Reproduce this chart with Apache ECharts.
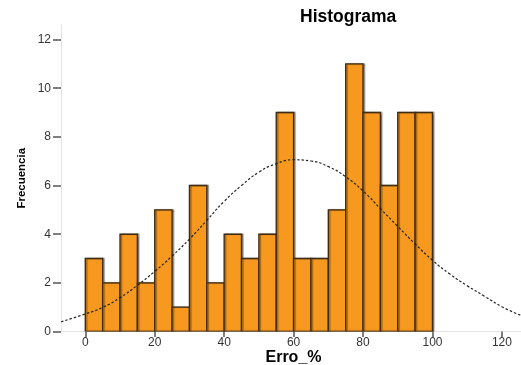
<!DOCTYPE html>
<html>
<head>
<meta charset="utf-8">
<script src="https://cdn.jsdelivr.net/npm/echarts@6/dist/echarts.min.js"></script>
<style>
html,body{margin:0;padding:0;background:#fff;}
#c{width:521px;height:365px;}
</style>
</head>
<body>
<div id="c"></div>
<script>
// Histogram bins (lower edge), bin width, frequencies
var binStarts = [0,5,10,15,20,25,30,35,40,45,50,55,60,65,70,75,80,85,90,95];
var binWidth = 5;
var counts = [3,2,4,2,5,1,6,2,4,3,4,9,3,3,5,11,9,6,9,9];
// Normal curve
var curveX = [-7,0,5,10,15,20,25,30,35,40,45,50,55,60,65,70,75,80,85,90,95,100,105,110,115,120,125.5];
var curveY = [0.40,0.72,0.99,1.39,1.90,2.47,3.10,3.80,4.57,5.35,6.00,6.55,6.90,7.06,7.01,6.78,6.36,5.78,5.05,4.32,3.60,2.93,2.36,1.88,1.45,1.02,0.66];
// Tick labels
var xTicks = [0,20,40,60,80,100,120];
var yTicks = [0,2,4,6,8,10,12];

var barData = binStarts.map(function(s,i){return [s, s+binWidth, counts[i]];});
var lineData = curveX.map(function(x,i){return [x, curveY[i]];});

var chart = echarts.init(document.getElementById('c'), null, {renderer:'canvas'});
var font = 'Liberation Sans, Arial, sans-serif';
chart.setOption({
  animation:false,
  backgroundColor:'#fff',
  title:{text:'Histograma', left:295, top:3,
    textStyle:{fontFamily:font, fontWeight:'bold', fontSize:17.5, color:'#000'}},
  grid:{left:61, right:0, top:25, bottom:33.5, containLabel:false, outerBoundsMode:'none'},
  xAxis:{type:'value', min:-7, max:125.5,
    name:'Erro_%', nameLocation:'middle', nameGap:18, nameMoveOverlap:false,
    nameTextStyle:{fontFamily:font, fontWeight:'bold', fontSize:16, color:'#000', padding:[0,0,0,5]},
    axisLine:{show:true, onZero:false, lineStyle:{color:'#e4e4e4', width:1}},
    axisTick:{show:true, customValues:xTicks, length:5.5, lineStyle:{color:'#555', width:1.5}},
    axisLabel:{customValues:xTicks, fontFamily:font, fontSize:12, color:'#333', margin:5},
    splitLine:{show:false}},
  yAxis:{type:'value', min:0, max:12.6,
    name:'Frecuencia', nameLocation:'middle', nameGap:33, nameRotate:90, nameMoveOverlap:false,
    nameTextStyle:{fontFamily:font, fontWeight:'bold', fontSize:11.5, color:'#000'},
    axisLine:{show:true, onZero:false, lineStyle:{color:'#e4e4e4', width:1}},
    axisTick:{show:true, customValues:yTicks, length:8, lineStyle:{color:'#555', width:1.5}},
    axisLabel:{customValues:yTicks, fontFamily:font, fontSize:12, color:'#333', margin:10},
    splitLine:{show:false}},
  series:[
    {type:'custom', data:barData, clip:true,
     renderItem:function(params, api){
       var a = api.coord([api.value(0), api.value(2)]);
       var b = api.coord([api.value(1), 0]);
       return {type:'rect',
         shape:{x:a[0], y:a[1], width:b[0]-a[0], height:b[1]-a[1]},
         style:{fill:'#F7991F', stroke:'#3f2c12', lineWidth:1.4,
           shadowColor:'rgba(0,0,0,0.35)', shadowOffsetX:1.5, shadowOffsetY:0, shadowBlur:1}};
     },
     encode:{x:[0,1], y:2}, z:2},
    {type:'line', data:lineData, smooth:0.5, symbol:'none', clip:false,
     lineStyle:{color:'#222', width:1.2, type:[2.5,2]}, z:3}
  ]
});
</script>
</body>
</html>
